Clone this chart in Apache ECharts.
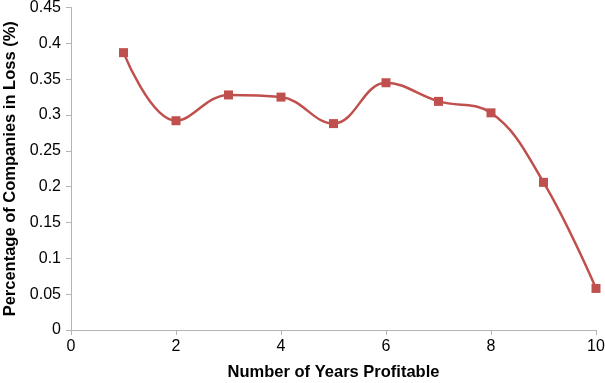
<!DOCTYPE html>
<html><head><meta charset="utf-8">
<script src="https://cdn.jsdelivr.net/npm/echarts@6/dist/echarts.min.js"></script>
<style>html,body{margin:0;padding:0;background:#fff}#c{width:605px;height:383px}</style>
</head><body><div id="c"></div>
<script>
const years = [1, 2, 3, 4, 5, 6, 7, 8, 9, 10];
const lossPct = [0.387, 0.292, 0.328, 0.325, 0.288, 0.345, 0.319, 0.303, 0.206, 0.058];
const xName = 'Number of Years Profitable';
const yName = 'Percentage of Companies in Loss (%)';
const chart = echarts.init(document.getElementById('c'), null, {renderer: 'canvas'});
const font = 'Liberation Sans, Arial, Helvetica, sans-serif';
const axisGray = '#b3b3b3';
chart.setOption({
  animation: false,
  backgroundColor: '#fff',
  grid: {left: 71, right: 9, top: 7.5, bottom: 53, containLabel: false, outerBoundsMode: 'none'},
  xAxis: {
    type: 'value', min: 0, max: 10, interval: 2,
    name: xName, nameLocation: 'middle', nameGap: 34,
    nameTextStyle: {fontFamily: font, fontSize: 16.5, fontWeight: 'bold', color: '#000'},
    axisLine: {show: true, lineStyle: {color: axisGray, width: 1}},
    axisTick: {show: true, length: 5, lineStyle: {color: axisGray}},
    axisLabel: {fontFamily: font, fontSize: 16, color: '#000', margin: 9},
    splitLine: {show: false}
  },
  yAxis: {
    type: 'value', min: 0, max: 0.45, interval: 0.05,
    name: yName, nameLocation: 'middle', nameGap: 52,
    nameTextStyle: {fontFamily: font, fontSize: 16.5, fontWeight: 'bold', color: '#000'},
    axisLine: {show: true, lineStyle: {color: axisGray, width: 1}},
    axisTick: {show: true, length: 5, lineStyle: {color: axisGray}},
    axisLabel: {fontFamily: font, fontSize: 16, color: '#000', margin: 10,
      formatter: v => String(parseFloat(v.toFixed(2)))},
    splitLine: {show: false}
  },
  series: [{
    type: 'line',
    data: years.map((x, i) => [x, lossPct[i]]),
    smooth: 0.4,
    symbol: 'rect', symbolSize: 9,
    lineStyle: {color: '#c0504d', width: 2.5},
    itemStyle: {color: '#c0504d'}
  }]
});
</script></body></html>
